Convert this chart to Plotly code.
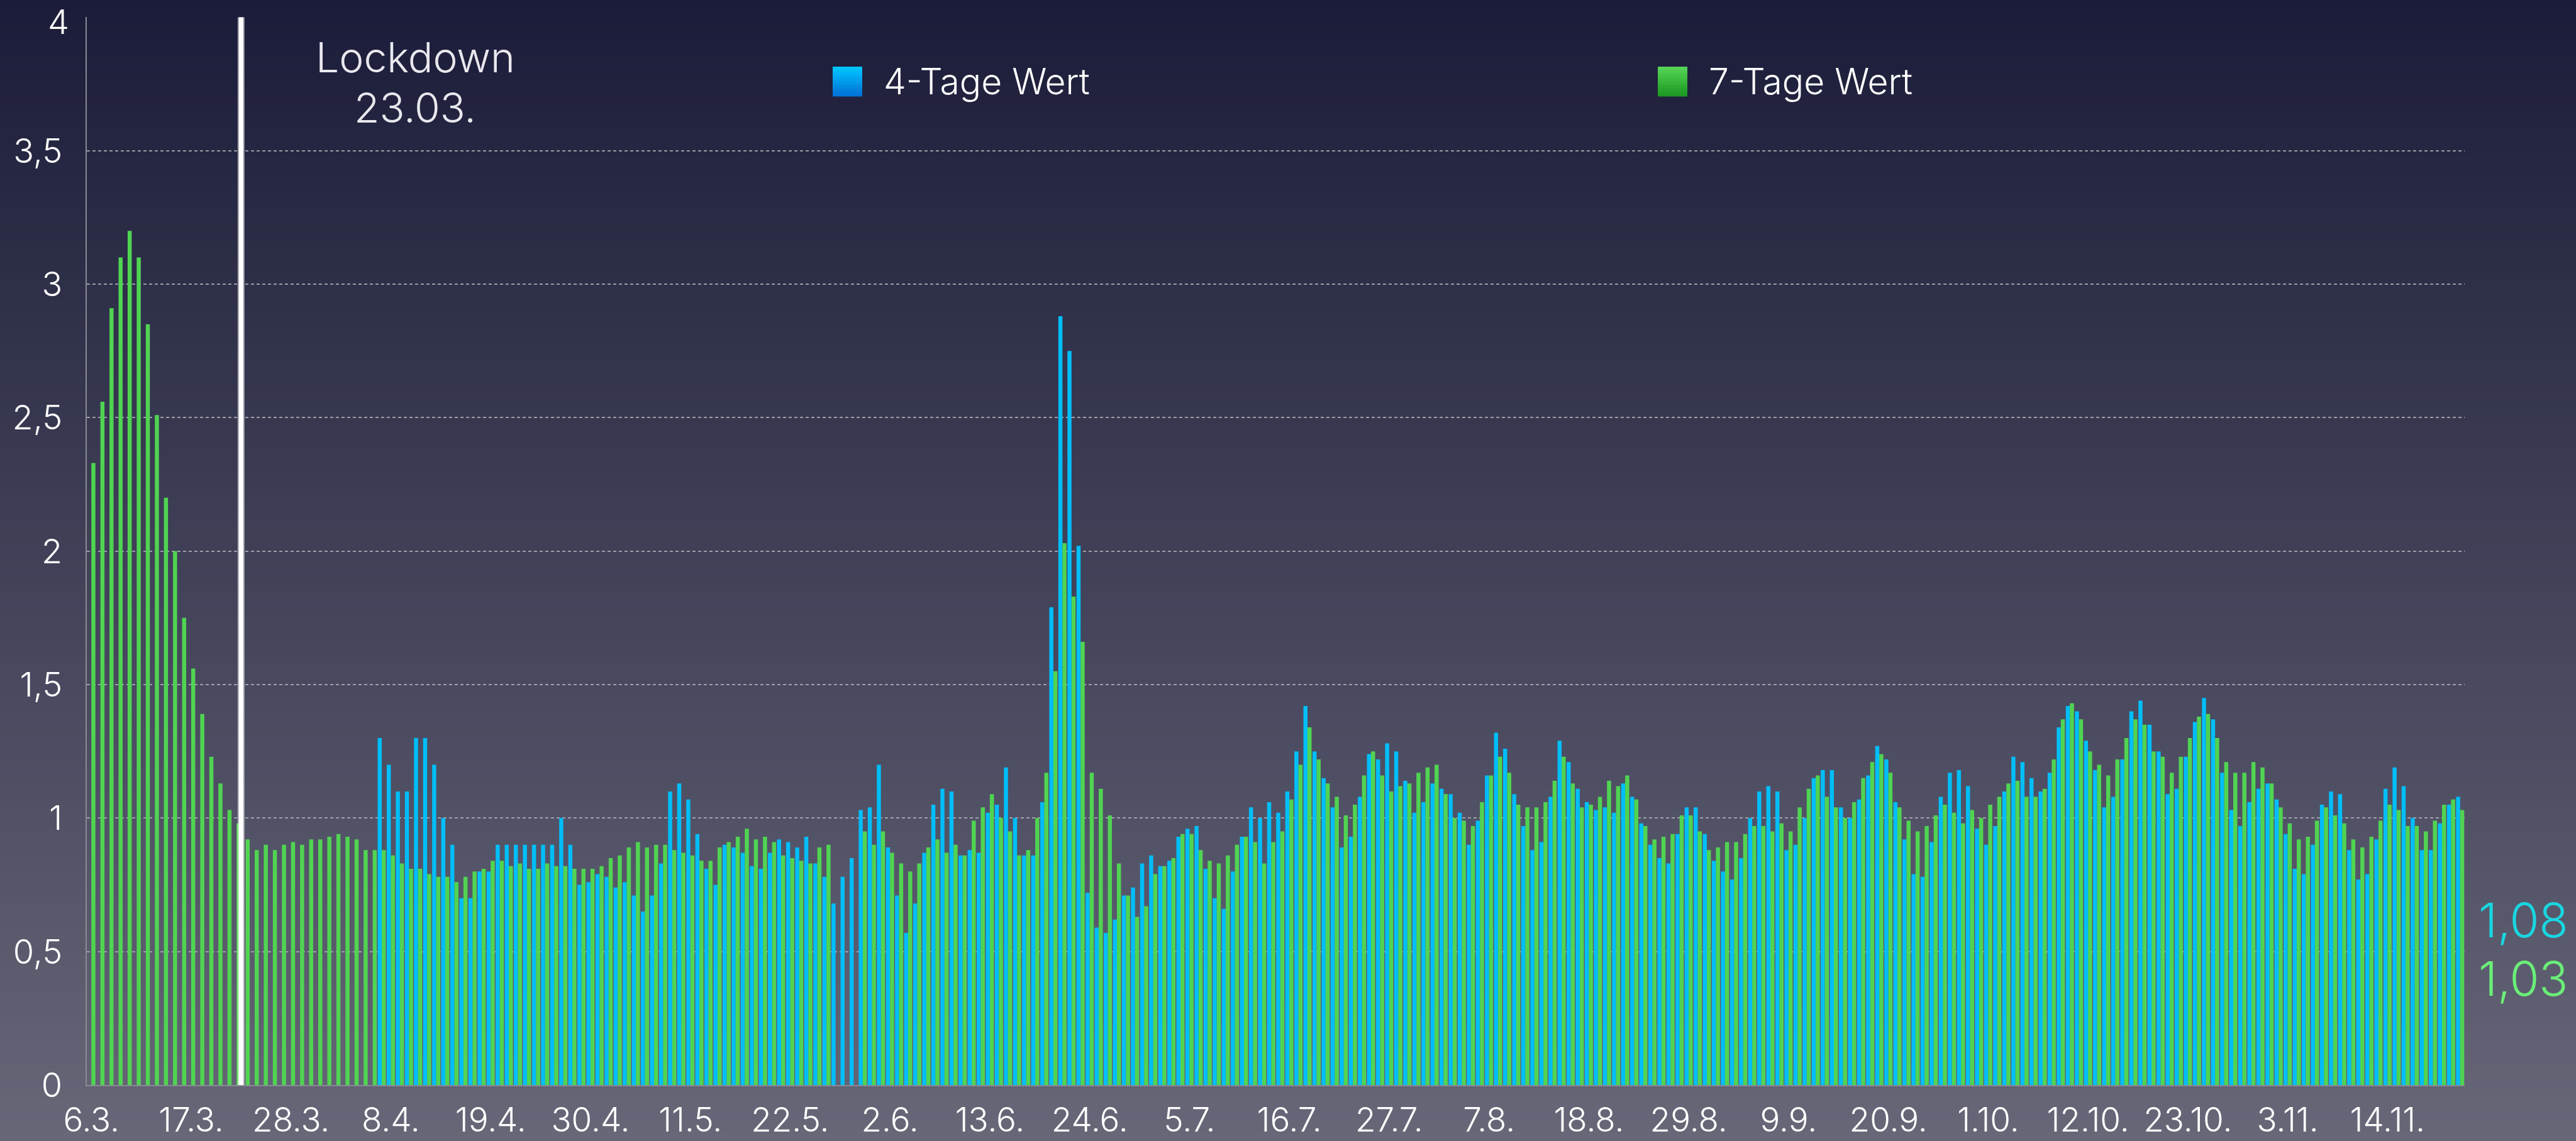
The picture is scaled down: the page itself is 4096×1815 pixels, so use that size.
import pandas as pd
import plotly.graph_objects as go

# ---------------------------------------------------------------- data
start_date = "2020-03-06"

# 4-Tage-R-Wert (first published on 7.4.)
vier_tage = [None] * 32 + [
    1.30, 1.20, 1.10, 1.10, 1.30, 1.30, 1.20, 1.00, 0.90, 0.70, 0.70, 0.80, 0.80, 0.90, 0.90, 0.90,
    0.90, 0.90, 0.90, 0.90, 1.00, 0.90, 0.75,
    0.76, 0.79, 0.78, 0.74, 0.76, 0.71, 0.65, 0.71, 0.83, 1.10, 1.13, 1.07, 0.94, 0.81, 0.75, 0.90,
    0.89, 0.87, 0.82, 0.81, 0.87, 0.92, 0.91,
    0.89, 0.93, 0.83, 0.78, 0.68, 0.78, 0.85, 1.03, 1.04, 1.20, 0.89, 0.71, 0.57, 0.68, 0.87, 1.05,
    1.11, 1.10, 0.86, 0.88, 0.87, 1.02, 1.05,
    1.19, 1.00, 0.86, 0.86, 1.06, 1.79, 2.88, 2.75, 2.02, 0.72, 0.59, 0.57, 0.62, 0.71, 0.74, 0.83,
    0.86, 0.82, 0.84, 0.93, 0.96, 0.97, 0.81,
    0.70, 0.66, 0.80, 0.93, 1.04, 1.00, 1.06, 1.02, 1.10, 1.25, 1.42, 1.25, 1.15, 1.04, 0.89, 0.93,
    1.08, 1.24, 1.22, 1.28, 1.25, 1.14, 1.02,
    1.06, 1.13, 1.11, 1.09, 1.02, 0.90, 0.99, 1.16, 1.32, 1.26, 1.09, 0.97, 0.88, 0.91, 1.08, 1.29,
    1.21, 1.11, 1.06, 1.03, 1.04, 1.02, 1.13,
    1.08, 0.98, 0.90, 0.85, 0.83, 0.94, 1.04, 1.04, 0.94, 0.84, 0.80, 0.77, 0.85, 1.00, 1.10, 1.12,
    1.10, 0.88, 0.90, 1.00, 1.15, 1.18, 1.18,
    1.04, 1.00, 1.07, 1.16, 1.27, 1.22, 1.06, 0.92, 0.79, 0.78, 0.91, 1.08, 1.17, 1.18, 1.12, 0.96,
    0.90, 0.97, 1.10, 1.23, 1.21, 1.15, 1.10,
    1.17, 1.34, 1.42, 1.40, 1.29, 1.18, 1.04, 1.08, 1.22, 1.40, 1.44, 1.35, 1.25, 1.09, 1.11, 1.23,
    1.36, 1.45, 1.37, 1.17, 1.03, 0.97, 1.06,
    1.11, 1.13, 1.07, 0.94, 0.81, 0.79, 0.90, 1.05, 1.10, 1.09, 0.88, 0.77, 0.79, 0.92, 1.11, 1.19,
    1.12, 1.00, 0.88, 0.88, 0.98, 1.05, 1.08,
]

# 7-Tage-R-Wert
sieben_tage = [
    2.33, 2.56, 2.91, 3.10, 3.20, 3.10, 2.85, 2.51, 2.20, 2.00, 1.75, 1.56, 1.39, 1.23, 1.13, 1.03,
    0.98, 0.92, 0.88, 0.90, 0.88, 0.90, 0.91, 0.90, 0.92, 0.92, 0.93, 0.94, 0.93, 0.92, 0.88, 0.88,
    0.88, 0.86, 0.83, 0.81, 0.81, 0.79, 0.78, 0.78, 0.76, 0.78, 0.80, 0.81, 0.84, 0.84, 0.82, 0.83,
    0.81, 0.81, 0.83, 0.82, 0.82, 0.81, 0.81,
    0.81, 0.82, 0.85, 0.86, 0.89, 0.91, 0.89, 0.90, 0.90, 0.88, 0.87, 0.86, 0.84, 0.84, 0.89, 0.91,
    0.93, 0.96, 0.92, 0.93, 0.91, 0.86, 0.85,
    0.84, 0.83, 0.89, 0.90, None, None, None, 0.95, 0.90, 0.95, 0.87, 0.83, 0.80, 0.83, 0.89, 0.92,
    0.87, 0.90, 0.86, 0.99, 1.04, 1.09, 1.00,
    0.95, 0.86, 0.88, 1.00, 1.17, 1.55, 2.03, 1.83, 1.66, 1.17, 1.11, 1.01, 0.83, 0.71, 0.63, 0.67,
    0.79, 0.82, 0.85, 0.94, 0.94, 0.88, 0.84,
    0.83, 0.86, 0.90, 0.93, 0.91, 0.83, 0.91, 0.95, 1.07, 1.20, 1.34, 1.22, 1.13, 1.08, 1.01, 1.05,
    1.16, 1.25, 1.16, 1.10, 1.12, 1.13, 1.17,
    1.19, 1.20, 1.09, 1.00, 0.99, 0.97, 1.06, 1.16, 1.23, 1.17, 1.05, 1.04, 1.04, 1.06, 1.14, 1.23,
    1.13, 1.04, 1.05, 1.08, 1.14, 1.12, 1.16,
    1.07, 0.97, 0.92, 0.93, 0.94, 1.01, 1.01, 0.95, 0.88, 0.89, 0.91, 0.91, 0.94, 0.97, 0.97, 0.95,
    0.98, 0.95, 1.04, 1.11, 1.16, 1.08, 1.04,
    1.00, 1.06, 1.15, 1.21, 1.24, 1.17, 1.04, 0.99, 0.95, 0.97, 1.01, 1.05, 1.02, 0.98, 1.03, 1.00,
    1.05, 1.08, 1.13, 1.14, 1.08, 1.08, 1.11,
    1.22, 1.37, 1.43, 1.37, 1.25, 1.20, 1.16, 1.22, 1.30, 1.37, 1.35, 1.25, 1.23, 1.17, 1.23, 1.30,
    1.38, 1.39, 1.30, 1.21, 1.17, 1.17, 1.21,
    1.19, 1.13, 1.04, 0.98, 0.92, 0.93, 0.99, 1.04, 1.01, 0.98, 0.92, 0.89, 0.93, 0.99, 1.05, 1.03,
    0.97, 0.97, 0.95, 0.99, 1.05, 1.07, 1.03,
]

tick_labels = ["6.3.", "17.3.", "28.3.", "8.4.", "19.4.", "30.4.", "11.5.", "22.5.", "2.6.",
               "13.6.", "24.6.", "5.7.", "16.7.", "27.7.", "7.8.", "18.8.", "29.8.", "9.9.",
               "20.9.", "1.10.", "12.10.", "23.10.", "3.11.", "14.11."]

y_ticks = [0, 0.5, 1, 1.5, 2, 2.5, 3, 3.5, 4]

lockdown_date = "2020-03-23"
series_names = ["4-Tage Wert", "7-Tage Wert"]

days = pd.date_range(start_date, periods=len(sieben_tage), freq="D")
tick_days = days[::11]
half_day = pd.Timedelta(hours=12)


def de_number(v):
    return ("%g" % v).replace(".", ",")


# ---------------------------------------------------------------- layout constants
W, H = 4096, 1815
ML, MR, MT, MB = 138, 177, 27, 89
PW, PH = W - ML - MR, H - MT - MB
Y_TOP = 4.001
Y_LABEL_STANDOFF = 26

FONT = "Inter"
BLUE = "#00BEF8"
GREEN = "#50D452"


def px_x(px):
    return (px - ML) / PW


def px_y(py):
    return (H - MB - py) / PH


def mix(c0, c1, t):
    return "rgb(%d,%d,%d)" % tuple(round(a + (b - a) * t) for a, b in zip(c0, c1))


shapes = []

# vertical background gradient over the whole page
n_bands = 110
top_col, bot_col = (27, 28, 57), (103, 103, 120)
for i in range(n_bands):
    y0 = H * i / n_bands
    y1 = H * (i + 1) / n_bands + 1
    shapes.append(dict(type="rect", xref="paper", yref="paper", layer="below",
                       x0=px_x(0), x1=px_x(W), y0=px_y(y1), y1=px_y(y0),
                       fillcolor=mix(top_col, bot_col, (i + 0.5) / n_bands),
                       line=dict(width=0)))

# lockdown marker between 22.3. and 23.3.
lock_x = pd.Timestamp(lockdown_date) - half_day
shapes.append(dict(type="line", xref="x", yref="y", layer="above",
                   x0=lock_x, x1=lock_x, y0=0, y1=4,
                   line=dict(color="rgba(255,255,255,0.55)", width=11)))
shapes.append(dict(type="line", xref="x", yref="y", layer="above",
                   x0=lock_x, x1=lock_x, y0=0, y1=4,
                   line=dict(color="#ffffff", width=7)))


# legend swatches with a soft vertical gradient
def swatch(x_left, top_rgb, bottom_rgb, size=47, y_top=106):
    steps = 12
    for k in range(steps):
        ya = y_top + size * k / steps
        yb = y_top + size * (k + 1) / steps + 0.5
        shapes.append(dict(type="rect", xref="paper", yref="paper", layer="above",
                           x0=px_x(x_left), x1=px_x(x_left + size),
                           y0=px_y(yb), y1=px_y(ya),
                           fillcolor=mix(top_rgb, bottom_rgb, (k + 0.5) / steps),
                           line=dict(width=0)))


swatch(1324, (0, 200, 255), (0, 112, 216))
swatch(2636, (88, 214, 88), (26, 152, 32))

annotations = []


def label(text, x, y, size, color, anchor="center", vanchor="middle"):
    annotations.append(dict(text=text, xref="paper", yref="paper", x=px_x(x), y=px_y(y),
                            xanchor=anchor, yanchor=vanchor, showarrow=False,
                            font=dict(family=FONT, size=size, color=color, weight=300)))


label("Lockdown", 660, 91, 66, "#e8e8ee")
label(pd.Timestamp(lockdown_date).strftime("%d.%m."), 660, 171, 66, "#e8e8ee")
label(series_names[0], 1403, 129, 57, "#ffffff", "left")
label(series_names[1], 2715, 129, 57, "#ffffff", "left")

# topmost y label sits against the page edge, so it hangs from the top
label(de_number(y_ticks[-1]), ML - Y_LABEL_STANDOFF, 0, 54, "#ffffff", "right", "top")

# latest values next to the last bars
last_vier = "%.2f" % vier_tage[-1]
last_sieben = "%.2f" % sieben_tage[-1]
label(last_vier.replace(".", ","), 3939, 1463, 76, "#19D6E0", "left")
label(last_sieben.replace(".", ","), 3939, 1556, 76, "#6BEE78", "left")

# ---------------------------------------------------------------- figure
fig = go.Figure()
fig.add_trace(go.Bar(x=days, y=vier_tage, name=series_names[0],
                     marker=dict(color=BLUE, line=dict(width=0))))
fig.add_trace(go.Bar(x=days, y=sieben_tage, name=series_names[1],
                     marker=dict(color=GREEN, line=dict(width=0))))

fig.update_layout(
    width=W, height=H,
    margin=dict(l=ML, r=MR, t=MT, b=MB, pad=0, autoexpand=False),
    paper_bgcolor="#1b1c39",
    plot_bgcolor="rgba(0,0,0,0)",
    barmode="group", bargap=0.1, bargroupgap=0,
    showlegend=False,
    shapes=shapes,
    annotations=annotations,
    font=dict(family=FONT, color="#ffffff", weight=300),
    xaxis=dict(
        type="date", automargin=False,
        range=[days[0] - half_day, days[-1] + half_day],
        tickmode="array", tickvals=list(tick_days), ticktext=tick_labels,
        tickfont=dict(family=FONT, size=53, color="#ffffff", weight=300),
        ticks="", ticklabelstandoff=8, ticklabeloverflow="allow",
        showgrid=False, zeroline=False,
        showline=True, linecolor="#8a8a94", linewidth=2,
    ),
    yaxis=dict(
        automargin=False,
        range=[0, Y_TOP],
        tickmode="array", tickvals=y_ticks,
        ticktext=[de_number(v) for v in y_ticks[:-1]] + [""],
        tickfont=dict(family=FONT, size=54, color="#ffffff", weight=300),
        ticks="", ticklabelstandoff=Y_LABEL_STANDOFF, ticklabeloverflow="allow",
        showgrid=True, gridcolor="rgba(175,175,182,0.85)", gridwidth=1.5,
        griddash="5px,4px",
        zeroline=False,
        showline=True, linecolor="#8a8a94", linewidth=2,
    ),
)

fig.write_html("out.html")
